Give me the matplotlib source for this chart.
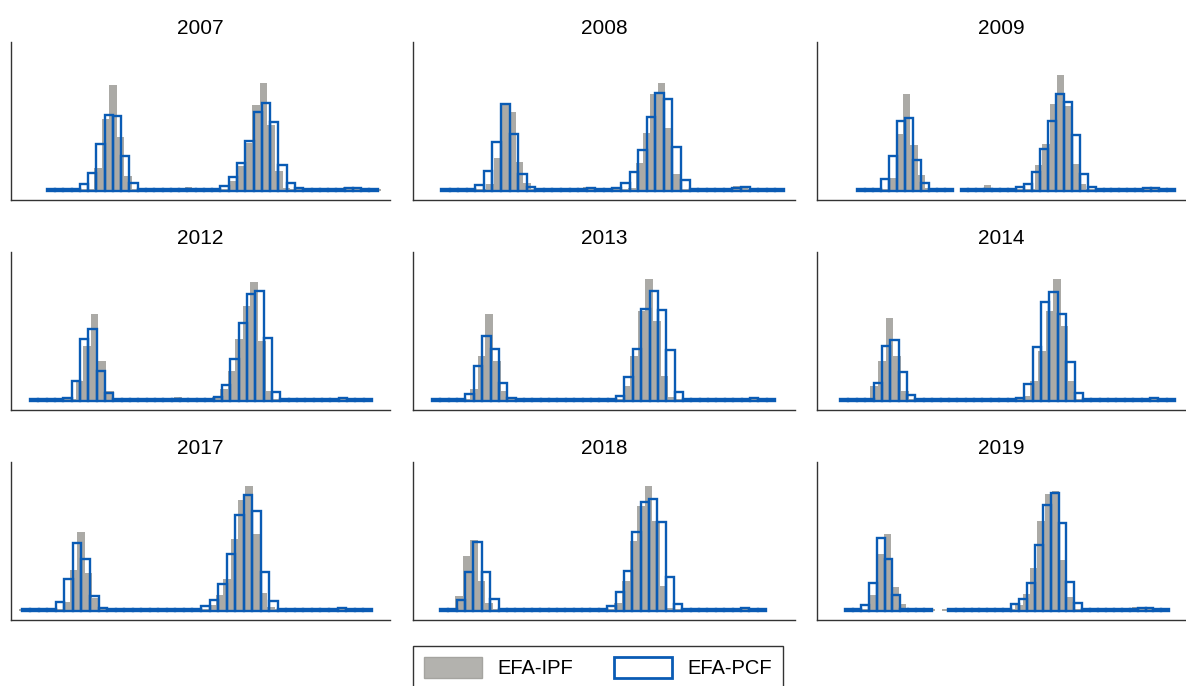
import numpy as np
import matplotlib.pyplot as plt
from matplotlib.patches import Patch

plt.rcParams['font.family'] = ['Liberation Sans', 'DejaVu Sans']

# ------------------------------------------------------------------
# date: inaltimea fiecarei clase (aceeasi scara verticala pentru toate panourile)
# ------------------------------------------------------------------
nan = np.nan
z = 0.15  # clase practic goale

years = [2007, 2008, 2009, 2012, 2013, 2014, 2017, 2018, 2019]

pcf_2007 = [z, z, z, 0.2, 0.67, 1.73, 4.7, 7.6, 7.5, 3.5, 0.8, z, z, z, z, z, z, 0.2, z, z,
            z, 0.5, 1.33, 2.77, 5.0, 7.9, 8.77, 6.83, 2.6, 0.73, 0.23, z, z, z, z, 0.2, 0.3, 0.25, z, z]
ipf_2007 = [z, z, z, z, z, 0.2, 2.3, 7.2, 10.6, 5.4, 1.5, z, z, z, z, z, z, z, 0.35, z, z, z,
            z, 0.2, 1.0, 2.5, 4.8, 8.6, 10.8, 6.6, 2.0, 0.3, z, z, z, z, z, z, 0.2, 0.4, 0.2, z, z, z]

pcf_2008 = [z, z, z, z, 0.6, 2.0, 4.9, 8.7, 5.7, 1.7, 0.4, z, z, z, z, z, 0.2, 0.3, z, z,
            0.3, 0.8, 1.9, 4.1, 7.4, 9.8, 9.2, 4.4, 1.1, z, z, z, z, z, 0.25, 0.4, 0.2, z, z, z]
ipf_2008 = [z, z, z, z, z, z, 0.7, 3.3, 8.8, 7.9, 2.9, 0.8, z, z, z, z, z, z, 0.2, 0.4, z, z, z,
            z, z, 0.3, 2.8, 5.8, 9.7, 10.8, 6.3, 1.7, 0.2, z, z, z, z, z, z, 0.5, 0.4, z, z, z, z, z]

pcf_2009 = [z, z, 0.2, 1.17, 3.5, 7.0, 7.3, 3.1, 0.73, z, z, z, nan, z, z, z, 0.2, z, z, z,
            0.4, 0.7, 1.9, 4.2, 7.0, 9.7, 8.9, 5.6, 1.7, 0.4, z, z, z, z, z, 0.2, 0.3, 0.3, 0.15, z]
ipf_2009 = [z, z, z, z, 1.3, 5.7, 9.7, 4.6, 1.6, 0.3, z, z, z, nan, z, z, z, 0.6, z, z, z, z,
            z, z, 2.6, 4.7, 8.7, 11.6, 8.5, 2.7, 0.7, z, z, z, z, z, z, z, 0.3, 0.4, 0.3, z, z]

pcf_2012 = [z, z, z, z, 0.3, 2.0, 6.2, 7.2, 3.0, 0.8, z, z, z, z, z, z, z, z, z, z, z,
            z, 0.4, 1.6, 4.2, 7.8, 10.7, 11.0, 6.3, 0.9, z, z, z, z, z, z, 0.2, 0.3, 0.2, z, z]
ipf_2012 = [z, z, z, z, z, z, 2.0, 5.5, 8.7, 4.0, 1.0, z, z, z, z, z, z, z, z, 0.4, z, z, z,
            z, 0.4, 1.2, 3.0, 6.2, 9.5, 11.9, 6.0, 1.0, z, z, z, z, z, z, z, z, 0.3, 0.3, z, z, z]

pcf_2013 = [z, z, z, z, 0.7, 3.5, 6.5, 5.2, 1.8, 0.3, z, z, z, z, z, z, z, z, z, z, z,
            z, 0.5, 2.4, 5.2, 9.2, 11.0, 9.1, 5.1, 0.9, z, z, z, z, z, z, z, 0.2, 0.3, z, z]
ipf_2013 = [z, z, z, z, z, 1.2, 4.5, 8.7, 4.0, 1.0, z, z, z, z, z, z, z, z, z, z, z, z, z,
            z, z, 1.5, 4.5, 9.0, 12.2, 8.0, 2.5, 0.4, z, z, z, z, z, z, z, z, 0.3, z, z, z, z]

pcf_2014 = [z, z, z, z, 1.8, 5.5, 6.1, 2.9, 0.6, z, z, z, z, z, z, z, z, z, z, z,
            z, 0.3, 1.7, 5.4, 9.9, 10.9, 8.7, 3.9, 0.8, z, z, z, z, z, z, z, 0.2, 0.3, 0.2, z]
ipf_2014 = [z, z, z, z, 1.5, 4.0, 8.3, 4.5, 1.0, z, z, z, z, z, z, z, z, z, z, z, z, z,
            z, z, 0.5, 2.0, 5.0, 9.0, 12.2, 7.5, 2.0, z, z, z, z, z, z, z, z, 0.3, 0.3, z, z, z]

pcf_2017 = [z, z, z, 0.2, 0.9, 3.2, 6.8, 5.2, 1.5, 0.3, z, z, z, z, z, z, z, z, z, z, z,
            0.47, 1.1, 2.7, 5.7, 9.6, 11.6, 10.0, 3.9, 1.0, 0.2, z, z, z, z, z, 0.2, 0.3, z, z, z]
ipf_2017 = [z, z, z, z, z, z, 0.9, 4.1, 7.9, 3.8, 1.3, 0.2, z, z, z, z, z, z, z, z, 0.3, z, z, z,
            z, z, 0.6, 1.6, 3.2, 7.2, 11.1, 12.5, 7.7, 1.8, 0.4, z, z, z, z, z, z, z, 0.2, 0.3, 0.3, z, z, z]

pcf_2018 = [z, z, 1.1, 3.9, 6.9, 3.9, 1.2, 0.2, z, z, z, z, z, z, z, z, z, z, z, z,
            0.5, 1.9, 4.0, 7.9, 10.9, 11.2, 8.9, 3.4, 0.7, z, z, z, z, z, z, 0.2, 0.3, z, z]
ipf_2018 = [z, z, 1.5, 5.5, 7.1, 3.0, 0.8, z, z, z, z, z, z, z, z, z, z, z, z, z, z, z,
            z, 0.8, 3.0, 7.0, 10.5, 12.5, 9.0, 2.5, 0.3, z, z, z, z, z, z, z, 0.3, 0.3, z, z, z]

pcf_2019 = [z, z, 0.57, 2.8, 7.3, 5.2, 1.6, 0.2, z, z, z, nan, nan, z, z, 0.15, z, z, z, z,
            0.2, 0.7, 1.2, 2.8, 6.6, 10.6, 11.8, 8.8, 2.9, 0.8, 0.15, z, z, z, z, z, 0.15, 0.3, 0.25, 0.15, z]
ipf_2019 = [z, z, z, 1.6, 5.7, 7.7, 2.4, 0.7, z, z, z, z, nan, z, z, z, 0.3, z, z, z, z, z,
            0.2, 0.6, 1.7, 4.3, 9.0, 11.7, 12.0, 5.1, 1.4, 0.2, z, z, z, z, z, z, z, 0.4, 0.4, 0.2, z, z]

pcf = [pcf_2007, pcf_2008, pcf_2009, pcf_2012, pcf_2013, pcf_2014, pcf_2017, pcf_2018, pcf_2019]
ipf = [ipf_2007, ipf_2008, ipf_2009, ipf_2012, ipf_2013, ipf_2014, ipf_2017, ipf_2018, ipf_2019]

# domeniul claselor pe axa orizontala (unitati comune)
pcf_lo = [35.7, 28.0, 40.3, 19.0, 19.0, 23.0, 10.7, 27.0, 28.0]
pcf_hi = [366.7, 370.8, 358.0, 361.0, 362.0, 358.0, 360.7, 353.0, 352.3]
ipf_lo = [38.0, 28.3, 42.0, 19.0, 19.0, 23.0, 8.0, 27.0, 30.5]
ipf_hi = [369.5, 371.9, 357.3, 361.0, 362.0, 358.0, 358.4, 353.0, 351.7]

# ------------------------------------------------------------------
# zone de desenare
# ------------------------------------------------------------------
W, H = 1186, 686
fig = plt.figure(figsize=(W / 100, H / 100), dpi=100)

col_l = [11, 413, 817]
col_r = [390, 795, 1186]
row_t = [42, 252, 462]
row_b = [200, 410, 620]

gri = "#abaaa6"
albastru = "#0a5bb4"

for k, year in enumerate(years):
    r, c = divmod(k, 3)
    ax = fig.add_axes([col_l[c] / W, 1 - row_b[r] / H,
                       (col_r[c] - col_l[c]) / W, (row_b[r] - row_t[r]) / H])

    # EFA-IPF (gri, plin)
    n_g = len(ipf[k])
    w_g = (ipf_hi[k] - ipf_lo[k]) / n_g
    x_g = ipf_lo[k] + w_g * np.arange(n_g)
    ax.bar(x_g, ipf[k], width=w_g, align="edge", color=gri, edgecolor="none", zorder=1)

    # EFA-PCF (contur albastru)
    n_b = len(pcf[k])
    w_b = (pcf_hi[k] - pcf_lo[k]) / n_b
    x_b = pcf_lo[k] + w_b * np.arange(n_b)
    ax.bar(x_b, pcf[k], width=w_b, align="edge", fill=False,
           edgecolor=albastru, linewidth=1.7, zorder=2)

    ax.set_xlim(0, col_r[c] - col_l[c])
    ax.set_ylim(-0.95, 14.85)
    ax.set_xticks([])
    ax.set_yticks([])
    for s in ["top", "right"]:
        ax.spines[s].set_visible(False)
    for s in ["left", "bottom"]:
        ax.spines[s].set_color("#333333")
        ax.spines[s].set_linewidth(1.0)
    ax.set_title(str(year), fontsize=15, pad=6)

# legenda
handles = [Patch(facecolor="#b3b2ae", edgecolor="#a5a4a0", linewidth=1.0),
           Patch(facecolor="white", edgecolor=albastru, linewidth=2.0)]
leg = fig.legend(handles, ["EFA-IPF", "EFA-PCF"], loc="upper left",
                 bbox_to_anchor=(413 / W, 1 - 646 / H), ncol=2, fontsize=14.5,
                 frameon=True, fancybox=False, edgecolor="black",
                 handlelength=2.9, handleheight=1.2, handletextpad=0.75,
                 columnspacing=2.0, borderpad=0.55, borderaxespad=0)
leg.get_frame().set_linewidth(1.0)

fig.savefig("out.png", dpi=100)
